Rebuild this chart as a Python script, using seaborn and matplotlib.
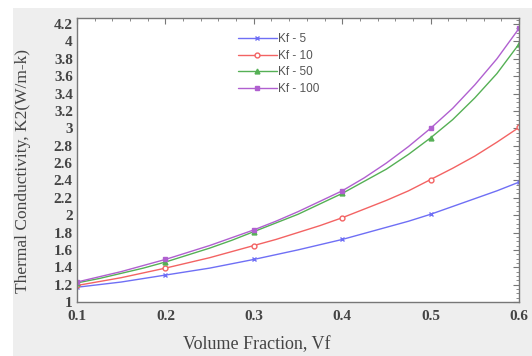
import numpy as np
import pandas as pd
import matplotlib
matplotlib.use("Agg")
import matplotlib.pyplot as plt
import seaborn as sns
from matplotlib.patches import Rectangle
from matplotlib.ticker import MultipleLocator, FormatStrFormatter

# values (markers sit at 0.1 steps, the rest follow the curve)
vf = [0.100, 0.125, 0.150, 0.175, 0.200, 0.225, 0.250, 0.275, 0.300, 0.325, 0.350,
      0.375, 0.400, 0.425, 0.450, 0.475, 0.500, 0.525, 0.550, 0.575, 0.600]
k_5 = [1.17, 1.20, 1.23, 1.27, 1.31, 1.35, 1.39, 1.44, 1.49, 1.545, 1.60,
       1.66, 1.72, 1.79, 1.86, 1.93, 2.01, 2.10, 2.19, 2.28, 2.38]
k_10 = [1.19, 1.235, 1.28, 1.335, 1.39, 1.45, 1.51, 1.58, 1.65, 1.72, 1.80,
        1.88, 1.97, 2.07, 2.17, 2.28, 2.41, 2.54, 2.68, 2.84, 3.01]
k_50 = [1.22, 1.27, 1.33, 1.39, 1.46, 1.54, 1.62, 1.71, 1.81, 1.91, 2.01,
        2.13, 2.25, 2.39, 2.53, 2.70, 2.89, 3.10, 3.35, 3.63, 3.97]
k_100 = [1.23, 1.29, 1.35, 1.42, 1.49, 1.57, 1.65, 1.74, 1.83, 1.93, 2.04,
         2.16, 2.28, 2.43, 2.60, 2.79, 3.00, 3.23, 3.50, 3.80, 4.15]
labels = ["Kf - 5", "Kf - 10", "Kf - 50", "Kf - 100"]

series = [k_5, k_10, k_50, k_100]
colors = ["#6f6ff5", "#f36363", "#55b055", "#b060d0"]
markers = ["x", "o", "^", "s"]

sns.set_style("white")

fig = plt.figure(figsize=(5.32, 3.56), dpi=100)
fig.patch.set_facecolor("white")
fig.patches.append(Rectangle((13 / 532, 0), 1, 1 - 8 / 356, transform=fig.transFigure,
                             facecolor="#eeeeee", edgecolor="none", zorder=-10))
ax = fig.add_axes([77 / 532, 1 - 302 / 356, (519 - 77) / 532, (302 - 18) / 356])
ax.set_facecolor("white")

for vals, lab, col, mk in zip(series, labels, colors, markers):
    df = pd.DataFrame({"vf": vf, "k": vals})
    sns.lineplot(data=df, x="vf", y="k", ax=ax, color=col, label=lab, lw=1.0,
                 marker=mk, markevery=4, markersize=3.5,
                 markerfacecolor="white" if mk == "o" else col,
                 markeredgecolor=col, markeredgewidth=1.0)

ax.set_xlim(0.1, 0.6)
ax.set_ylim(1, 4.27)
ax.xaxis.set_major_locator(MultipleLocator(0.1))
ax.xaxis.set_minor_locator(MultipleLocator(0.02))
ax.yaxis.set_major_locator(MultipleLocator(0.2))
ax.yaxis.set_minor_locator(MultipleLocator(0.05))
ax.xaxis.set_major_formatter(FormatStrFormatter("%g"))
ax.yaxis.set_major_formatter(FormatStrFormatter("%g"))

ax.tick_params(which="both", direction="in", top=True, right=True, color="#777777")
ax.tick_params(which="major", length=4, width=0.8, labelsize=11, labelcolor="#444444")
ax.tick_params(axis="x", which="major", pad=6)
ax.tick_params(axis="y", which="major", pad=3)
ax.tick_params(which="minor", length=2, width=0.6)
for lbl in ax.get_xticklabels() + ax.get_yticklabels():
    lbl.set_family("Liberation Serif")
    lbl.set_fontweight("bold")
for sp in ax.spines.values():
    sp.set_color("#777777")
    sp.set_linewidth(1.0)

ax.set_xlabel("Volume Fraction, Vf", family="Liberation Serif", fontsize=13,
              color="#444444")
ax.xaxis.set_label_coords(0.407, -0.12)
ax.set_ylabel("Thermal Conductivity, K2(W/m-k)", family="Liberation Serif", fontsize=12.5,
              color="#444444")
ax.yaxis.set_label_coords(-0.105, 0.46)

leg = ax.legend(loc="upper left", bbox_to_anchor=(0.345, 0.975), frameon=False,
                prop={"family": "Liberation Sans", "size": 8.5}, handlelength=3.3,
                handletextpad=0.15, labelspacing=0.38, borderpad=0.2)
for t in leg.get_texts():
    t.set_color("#555555")

fig.savefig("out.png", dpi=100)
